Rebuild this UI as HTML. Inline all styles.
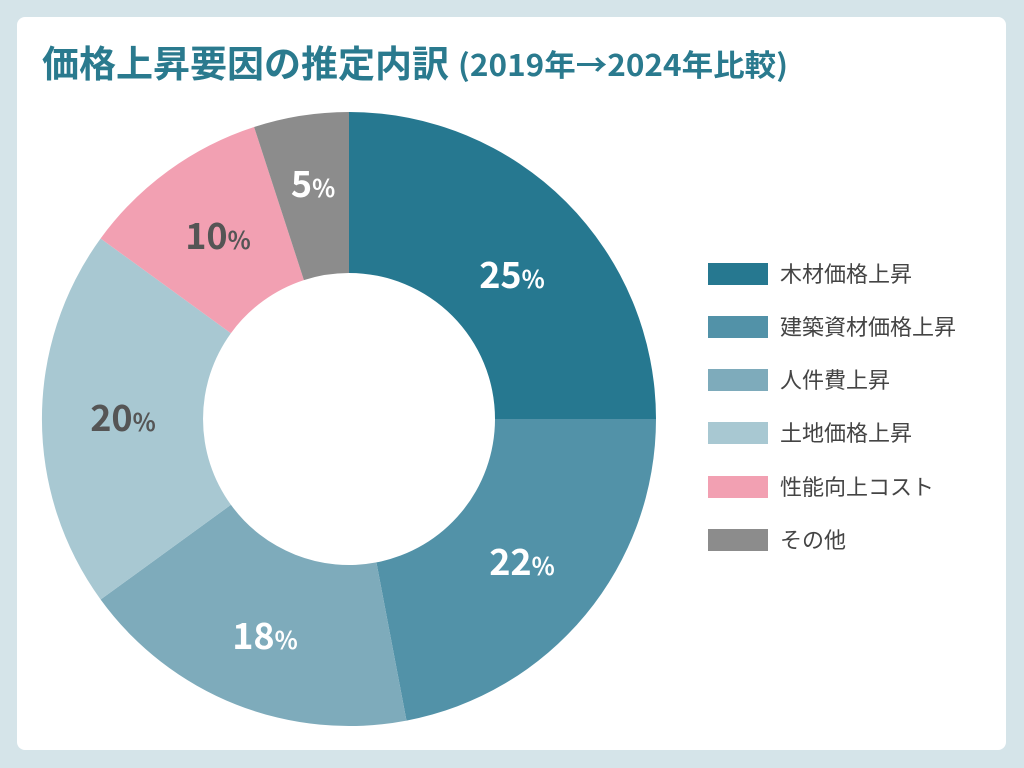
<!DOCTYPE html>
<html><head><meta charset="utf-8"><style>
body{margin:0;width:1024px;height:768px;background:#d5e4e9;font-family:"Noto Sans CJK JP",sans-serif;}
.card{position:absolute;left:17px;top:17px;width:989px;height:733px;background:#fff;border-radius:8px;}
</style></head><body>
<div class="card"></div>
<svg width="1024" height="768" style="position:absolute;left:0;top:0" font-family="Noto Sans CJK JP, sans-serif">
<text x="42" y="77" font-size="37" font-weight="bold" fill="#2a7a8e">価格上昇要因の推定内訳</text>
<text x="458" y="76" font-size="30" font-weight="bold" fill="#2a7a8e" textLength="330" lengthAdjust="spacingAndGlyphs">(2019年→2024年比較)</text>
<g>
<path d="M349,112 A307,307 0 0 1 656,419 L495,419 A146,146 0 0 0 349,273 Z" fill="#267890"/>
<path d="M656,419 A307,307 0 0 1 406.5,720.6 L376.4,562.4 A146,146 0 0 0 495,419 Z" fill="#5292a8"/>
<path d="M406.5,720.6 A307,307 0 0 1 100.6,599.5 L230.9,504.8 A146,146 0 0 0 376.4,562.4 Z" fill="#7eabbb"/>
<path d="M100.6,599.5 A307,307 0 0 1 100.6,238.5 L230.9,333.2 A146,146 0 0 0 230.9,504.8 Z" fill="#a8c8d2"/>
<path d="M100.6,238.5 A307,307 0 0 1 254.1,127 L303.9,280.1 A146,146 0 0 0 230.9,333.2 Z" fill="#f2a0b2"/>
<path d="M254.1,127 A307,307 0 0 1 349,112 L349,273 A146,146 0 0 0 303.9,280.1 Z" fill="#8c8c8c"/>
</g>
<g font-weight="bold" font-size="36" text-anchor="middle">
<text x="512" y="288" fill="#fff">25<tspan font-size="24">%</tspan></text>
<text x="522" y="575" fill="#fff">22<tspan font-size="24">%</tspan></text>
<text x="265" y="649" fill="#fff">18<tspan font-size="24">%</tspan></text>
<text x="123" y="431" fill="#555">20<tspan font-size="24">%</tspan></text>
<text x="218" y="249" fill="#555">10<tspan font-size="24">%</tspan></text>
<text x="313" y="197" fill="#fff">5<tspan font-size="24">%</tspan></text>
</g>
<g font-size="22" fill="#444">
<rect x="708" y="263" width="60" height="22" fill="#267890"/><text x="780" y="282">木材価格上昇</text>
<rect x="708" y="316" width="60" height="22" fill="#5292a8"/><text x="780" y="335">建築資材価格上昇</text>
<rect x="708" y="369" width="60" height="22" fill="#7eabbb"/><text x="780" y="388">人件費上昇</text>
<rect x="708" y="422" width="60" height="22" fill="#a8c8d2"/><text x="780" y="441">土地価格上昇</text>
<rect x="708" y="476" width="60" height="22" fill="#f2a0b2"/><text x="780" y="495">性能向上コスト</text>
<rect x="708" y="529" width="60" height="22" fill="#8c8c8c"/><text x="780" y="548">その他</text>
</g>
</svg>
</body></html>
